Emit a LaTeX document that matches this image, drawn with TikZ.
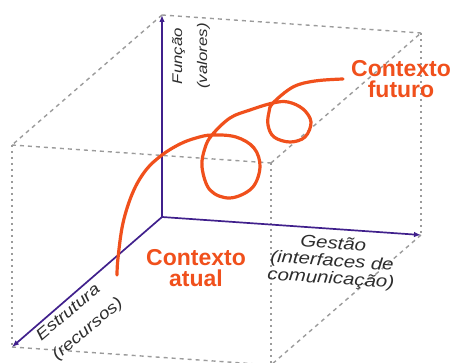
\documentclass[tikz,border=0pt]{standalone}
\usepackage{fontspec}
\setmainfont{Liberation Sans}
\newfontfamily\labfont[FakeStretch=1.2]{Liberation Sans}
\usetikzlibrary{arrows.meta}
\definecolor{ctxorange}{RGB}{240,80,28}
\definecolor{axispurple}{RGB}{64,32,140}
\definecolor{edgegray}{RGB}{155,155,155}
\definecolor{labgray}{RGB}{45,45,45}
\begin{document}
\begin{tikzpicture}[x=1pt,y=-1pt,
  axis/.style={draw=axispurple, line width=1.7pt, -{Latex[length=7pt,width=5.5pt]}},
  edge/.style={draw=edgegray, line width=1.4pt, dash pattern=on 4pt off 4pt},
  vedge/.style={draw=edgegray, line width=1.4pt, dash pattern=on 2pt off 4pt},
  axislabel/.style={text=labgray, inner sep=0pt},
  ctx/.style={font=\bfseries\fontsize{23}{21}\selectfont, text=ctxorange, align=center, inner sep=0pt},
  spiral/.style={draw=ctxorange, line width=3.2pt, line cap=round}]
\useasboundingbox (0,0) rectangle (456,363);
% cube vertices
\coordinate (O) at (162,217);
\coordinate (A) at (162,15);
\coordinate (R) at (421,235);
\coordinate (RU) at (421,33);
\coordinate (F) at (12,347);
\coordinate (FU) at (12,145);
\coordinate (FR) at (271,365);
\coordinate (FRU) at (271,163);
% dashed edges
\draw[edge] (A) -- (RU);
\draw[edge] (A) -- (FU);
\draw[edge] (FU) -- (FRU);
\draw[edge] (FRU) -- (RU);
\draw[edge] (F) -- (FR);
\draw[edge] (R) -- (FR);
\draw[vedge] (RU) -- (R);
\draw[vedge] (FU) -- (F);
\draw[vedge] (FRU) -- (FR);
% axes
\draw[axis] (O) -- (A);
\draw[axis] (O) -- (F);
\draw[axis] (O) -- (R);
% spiral
\draw[spiral] plot[smooth, tension=0.6] coordinates {
 (117,275) (118,258) (123,223) (133,192) (146,170) (162,155) (180,144) (196,138)
 (212,135) (236,137) (254,148) (260,167) (252,188) (230,198) (210,190) (202,167) (205,148)
 (212,135) (230,118) (250,110) (273,103) (288,102) (303,109) (311,122) (305,137) (290,142)
 (274,137) (268,125) (269,112) (273,103) (293,87) (315,81) (343,79)};
% labels
\node[axislabel, rotate=90, align=center, font=\labfont\itshape\fontsize{14}{25}\selectfont] (funcao) at (191,56) {Função\\(valores)};
\node[axislabel, rotate=40, align=left, font=\labfont\itshape\fontsize{16}{25}\selectfont] (estrutura) at (80,320) {Estrutura\\(recursos)};
\node[axislabel, rotate=-4, align=center, font=\labfont\itshape\fontsize{17}{17.5}\selectfont] (gestao) at (332,262) {Gestão\\(interfaces de\\comunicação)};
\node[ctx] (atual) at (196,268.5) {Contexto\\atual};
\node[ctx] (futuro) at (401,79.5) {Contexto\\futuro};
\end{tikzpicture}
\end{document}
